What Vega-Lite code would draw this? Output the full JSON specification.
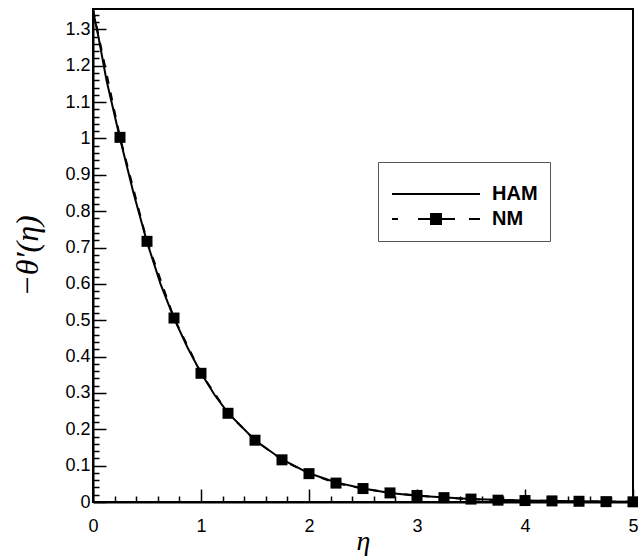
{
  "$schema": "https://vega.github.io/schema/vega-lite/v6.json",
  "autosize": "none",
  "width": 540,
  "height": 493,
  "padding": {"left": 93, "top": 9, "right": 5, "bottom": 55},
  "background": "white",
  "config": {
    "view": {"stroke": "black", "strokeWidth": 2},
    "font": "Liberation Sans"
  },
  "datasets": {
    "curves": [
      {"series": "HAM", "eta": 0, "val": 1.352},
      {"series": "HAM", "eta": 0.05, "val": 1.28},
      {"series": "HAM", "eta": 0.125, "val": 1.16},
      {"series": "HAM", "eta": 0.25, "val": 1.0},
      {"series": "HAM", "eta": 0.375, "val": 0.85},
      {"series": "HAM", "eta": 0.5, "val": 0.715},
      {"series": "HAM", "eta": 0.625, "val": 0.6},
      {"series": "HAM", "eta": 0.75, "val": 0.505},
      {"series": "HAM", "eta": 0.875, "val": 0.425},
      {"series": "HAM", "eta": 1.0, "val": 0.355},
      {"series": "HAM", "eta": 1.125, "val": 0.295},
      {"series": "HAM", "eta": 1.25, "val": 0.245},
      {"series": "HAM", "eta": 1.5, "val": 0.17},
      {"series": "HAM", "eta": 1.75, "val": 0.117},
      {"series": "HAM", "eta": 2.0, "val": 0.079},
      {"series": "HAM", "eta": 2.25, "val": 0.054},
      {"series": "HAM", "eta": 2.5, "val": 0.037},
      {"series": "HAM", "eta": 2.75, "val": 0.025},
      {"series": "HAM", "eta": 3.0, "val": 0.017},
      {"series": "HAM", "eta": 3.5, "val": 0.008},
      {"series": "HAM", "eta": 4.0, "val": 0.004},
      {"series": "HAM", "eta": 4.5, "val": 0.002},
      {"series": "HAM", "eta": 5.0, "val": 0.001},
      {"series": "NM", "eta": 0, "val": 1.355},
      {"series": "NM", "eta": 0.25, "val": 1.003},
      {"series": "NM", "eta": 0.5, "val": 0.717},
      {"series": "NM", "eta": 0.75, "val": 0.506},
      {"series": "NM", "eta": 1.0, "val": 0.354},
      {"series": "NM", "eta": 1.25, "val": 0.244},
      {"series": "NM", "eta": 1.5, "val": 0.17},
      {"series": "NM", "eta": 1.75, "val": 0.116},
      {"series": "NM", "eta": 2.0, "val": 0.078},
      {"series": "NM", "eta": 2.25, "val": 0.052},
      {"series": "NM", "eta": 2.5, "val": 0.037},
      {"series": "NM", "eta": 2.75, "val": 0.025},
      {"series": "NM", "eta": 3.0, "val": 0.018},
      {"series": "NM", "eta": 3.25, "val": 0.012},
      {"series": "NM", "eta": 3.5, "val": 0.008},
      {"series": "NM", "eta": 3.75, "val": 0.005},
      {"series": "NM", "eta": 4.0, "val": 0.004},
      {"series": "NM", "eta": 4.25, "val": 0.003},
      {"series": "NM", "eta": 4.5, "val": 0.002},
      {"series": "NM", "eta": 4.75, "val": 0.001},
      {"series": "NM", "eta": 5.0, "val": 0.0005}
    ]
  },
  "data": {"name": "curves"},
  "encoding": {
    "x": {
      "field": "eta", "type": "quantitative",
      "scale": {"domain": [0, 5], "nice": false, "zero": false},
      "axis": {
        "title": "η",
        "titleFont": "Liberation Serif", "titleFontStyle": "italic", "titleFontWeight": "normal",
        "titleFontSize": 28, "titleColor": "black", "titlePadding": -15,
        "values": [0,0.2,0.4,0.6,0.8,1,1.2,1.4,1.6,1.8,2,2.2,2.4,2.6,2.8,3,3.2,3.4,3.6,3.8,4,4.2,4.4,4.6,4.8,5],
        "labelExpr": "abs(datum.value - round(datum.value)) < 0.001 ? format(datum.value, '.0f') : ''",
        "labelFontSize": 18, "labelColor": "black", "labelPadding": 28,
        "labelFlush": false, "labelOverlap": false,
        "tickColor": "black", "tickWidth": 1.5,
        "tickSize": {"condition": {"test": "abs(datum.value - round(datum.value)) < 0.001", "value": -13}, "value": -6},
        "domainColor": "black", "domainWidth": 2, "grid": false
      }
    },
    "y": {
      "field": "val", "type": "quantitative",
      "scale": {"domain": [0, 1.356], "nice": false, "zero": false},
      "axis": {
        "title": "−θ′(η)",
        "titleFont": "Liberation Serif", "titleFontStyle": "italic", "titleFontWeight": "normal",
        "titleFontSize": 32, "titleColor": "black", "titlePadding": 20,
        "values": [0,0.02,0.04,0.06,0.08,0.1,0.12,0.14,0.16,0.18,0.2,0.22,0.24,0.26,0.28,0.3,0.32,0.34,0.36,0.38,0.4,0.42,0.44,0.46,0.48,0.5,0.52,0.54,0.56,0.58,0.6,0.62,0.64,0.66,0.68,0.7,0.72,0.74,0.76,0.78,0.8,0.82,0.84,0.86,0.88,0.9,0.92,0.94,0.96,0.98,1,1.02,1.04,1.06,1.08,1.1,1.12,1.14,1.16,1.18,1.2,1.22,1.24,1.26,1.28,1.3,1.32,1.34],
        "labelExpr": "abs(datum.value*10 - round(datum.value*10)) < 0.001 ? format(datum.value, '.1~f') : ''",
        "labelFontSize": 18, "labelColor": "black", "labelPadding": 16,
        "labelFlush": false, "labelOverlap": false,
        "tickColor": "black", "tickWidth": 1.5,
        "tickSize": {"condition": {"test": "abs(datum.value*10 - round(datum.value*10)) < 0.001", "value": -13}, "value": -6},
        "domainColor": "black", "domainWidth": 2, "grid": false
      }
    }
  },
  "layer": [
    {
      "transform": [{"filter": "datum.series == 'HAM'"}],
      "mark": {"type": "line", "color": "black", "strokeWidth": 2},
      "encoding": {"order": {"field": "eta"}}
    },
    {
      "transform": [{"filter": "datum.series == 'NM'"}],
      "mark": {"type": "line", "color": "black", "strokeWidth": 2, "strokeDash": [8, 9]},
      "encoding": {"order": {"field": "eta"}}
    },
    {
      "transform": [{"filter": "datum.series == 'NM' && datum.eta > 0"}],
      "mark": {"type": "point", "shape": "square", "filled": true, "color": "black", "size": 121, "opacity": 1}
    },
    {
      "transform": [{"filter": "datum.eta == 0"}],
      "mark": {"type": "point", "filled": true, "color": "black"},
      "encoding": {
        "size": {"value": 0},
        "shape": {
          "field": "series", "type": "nominal",
          "scale": {
            "domain": ["HAM", "NM"],
            "range": [
              "M-8,-1H80V1H-8Z",
              "M-8,-1H-2V1H-8Z M18,-1H30V-6H42V-1H55V1H42V6H30V1H18Z M69,-1H80V1H69Z"
            ]
          },
          "legend": {
            "title": " ",
            "titleFontSize": 6,
            "titlePadding": 4,
            "orient": "none",
            "legendX": 285,
            "legendY": 153,
            "symbolSize": 4,
            "symbolFillColor": "black",
            "symbolStrokeWidth": 0,
            "symbolOpacity": 1,
            "labelOffset": 82,
            "labelFont": "Liberation Sans",
            "labelFontSize": 20,
            "labelFontWeight": "bold",
            "labelColor": "black",
            "rowPadding": 5,
            "padding": 12,
            "strokeColor": "#555",
            "fillColor": "white"
          }
        }
      }
    }
  ]
}
